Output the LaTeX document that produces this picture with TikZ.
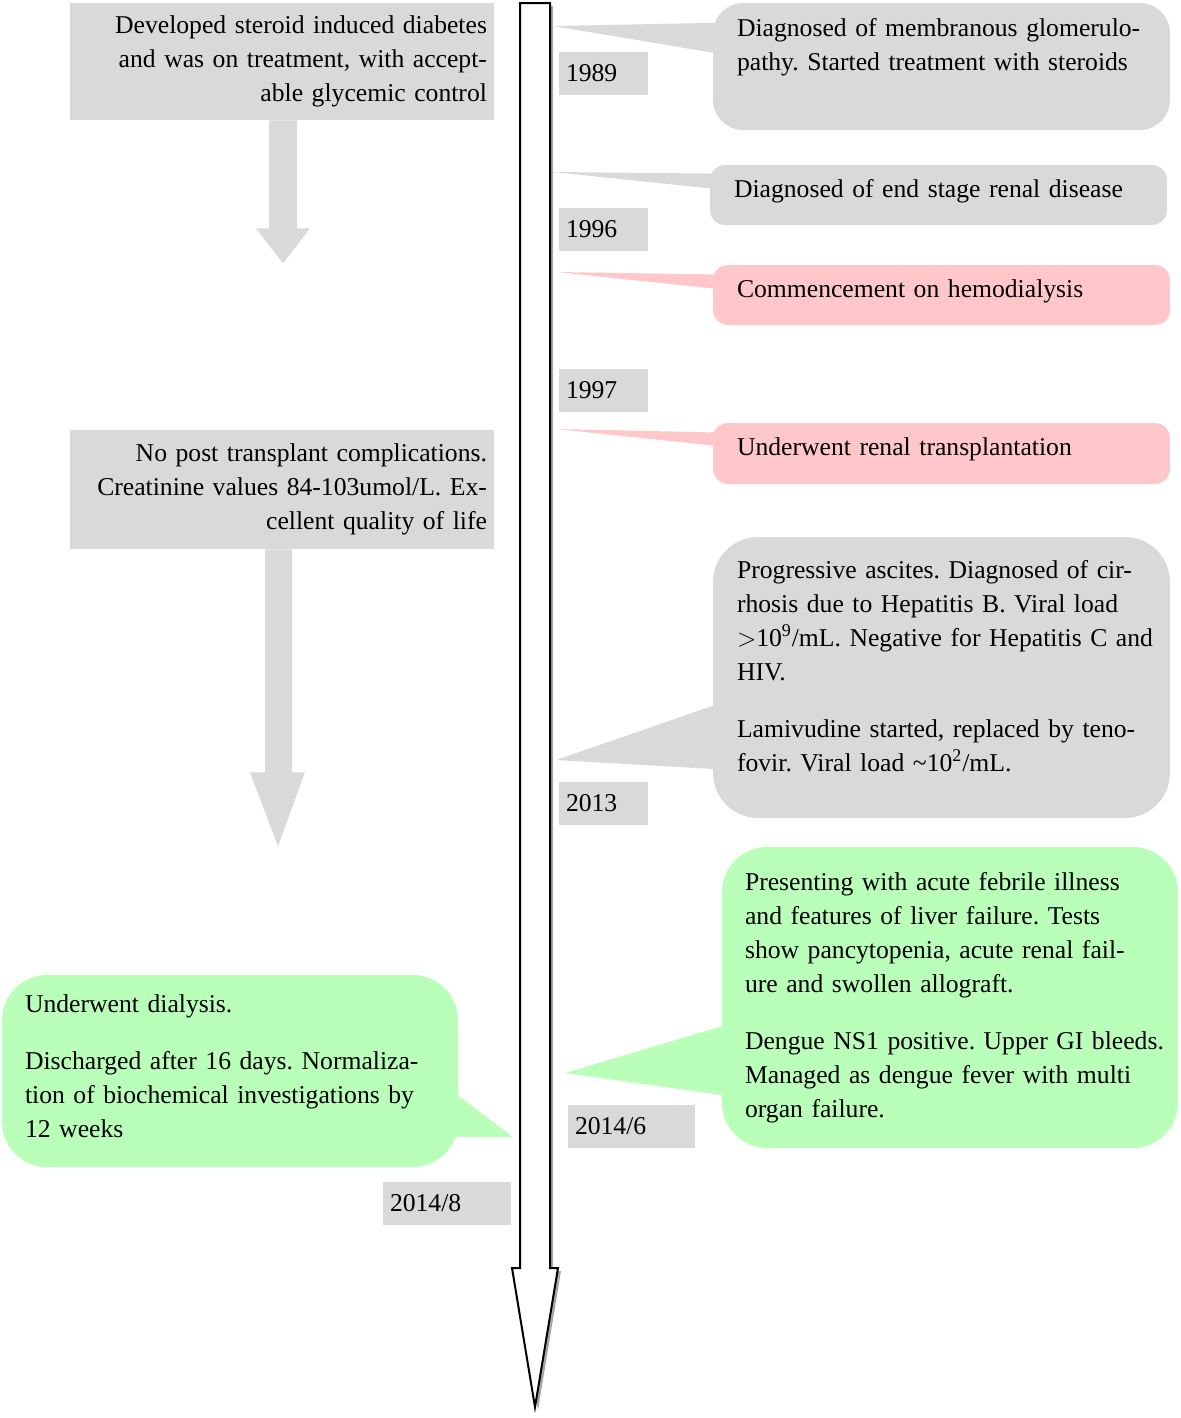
\documentclass[tikz,border=0pt]{standalone}
\usepackage{fontspec}
\setmainfont{Liberation Serif}
\usetikzlibrary{calc}
\definecolor{boxgray}{HTML}{D9D9D9}
\definecolor{boxpink}{HTML}{FFC7C9}
\definecolor{boxgreen}{HTML}{B9FFB9}
\definecolor{shadowgray}{HTML}{A6A6A6}
\tikzset{
  txt/.style={font=\fontsize{14.6}{19.35}\selectfont\frenchspacing, text=black},
  yearbox/.style={txt, fill=boxgray, minimum height=0.86cm, inner xsep=0.14cm, inner ysep=0pt, align=left},
  notebox/.style={txt, fill=boxgray, minimum width=8.48cm, text width=8.2cm, inner xsep=0.14cm, inner ysep=0pt, align=right},
  callout/.style={txt, minimum width=9.14cm, text width=8.18cm, inner xsep=0.48cm, inner ysep=0pt, align=left},
  graycall/.style={callout, fill=boxgray},
  pinkcall/.style={callout, fill=boxpink},
  greencall/.style={callout, fill=boxgreen},
  timeline/.style={draw=black, fill=white, line width=0.04cm, line join=miter}
}

\begin{document}
\begin{tikzpicture}[x=0.02cm, y=-0.02cm]
  \useasboundingbox (0,0) rectangle (1181,1418);

  % timeline
  \fill[shadowgray] (523,6) -- (553,6) -- (553,1271) -- (561,1271) -- (538,1410) -- (515,1271) -- (523,1271) -- cycle;
  \draw[timeline] (520,3) -- (550,3) -- (550,1268) -- (558,1268) -- (535,1407) -- (512,1268) -- (520,1268) -- cycle;
  \coordinate (t1989) at (553,26);
  \coordinate (t1996) at (553,172);
  \coordinate (thd) at (556,272);
  \coordinate (t1997) at (556,429);
  \coordinate (t2013) at (556,760);
  \coordinate (t2014a) at (565,1073);
  \coordinate (t2014b) at (513,1137);

  % years
  \node[yearbox, text width=1.5cm] (y1989) at (603.5,73.5) {1989};
  \node[yearbox, text width=1.5cm] (y1996) at (603.5,229.5) {1996};
  \node[yearbox, text width=1.5cm] (y1997) at (603.5,390.5) {1997};
  \node[yearbox, text width=1.5cm] (y2013) at (603.5,803.5) {2013};
  \node[yearbox, text width=2.26cm] (y2014a) at (631.5,1126.5) {2014/6};
  \node[yearbox, text width=2.28cm] (y2014b) at (447,1203) {2014/8};

  % right callouts
  \node[graycall, rounded corners=0.6cm, minimum height=2.54cm] (c1989) at (941.5,66.5)
    {Diagnosed of membranous glomerulo-\\pathy. Started treatment with steroids\\[0.2cm]~};
  \node[graycall, rounded corners=0.3cm, minimum height=1.2cm, text depth=0.27cm] (cesrd) at (938.5,195)
    {Diagnosed of end stage renal disease};
  \node[pinkcall, rounded corners=0.3cm, minimum height=1.2cm, text depth=0.27cm] (chd) at (941.5,295)
    {Commencement on hemodialysis};
  \node[pinkcall, rounded corners=0.3cm, minimum height=1.22cm, text depth=0.29cm] (ctx) at (941.5,453.5)
    {Underwent renal transplantation};
  \node[graycall, rounded corners=0.9cm, minimum height=5.62cm] (chbv) at (941.5,677.5)
    {Progressive ascites. Diagnosed of cir-\\rhosis due to Hepatitis B. Viral load\\\mbox{$>$10\textsuperscript{9}/mL. Negative for Hepatitis C and}\\HIV.\\[0.46cm]
     Lamivudine started, replaced by teno-\\fovir. Viral load \textasciitilde10\textsuperscript{2}/mL.\\[-0.2cm]~};
  \node[greencall, rounded corners=0.9cm, minimum height=6.02cm, minimum width=9.12cm, text width=8.2cm, inner xsep=0.46cm] (cdengue) at (950,997.5)
    {Presenting with acute febrile illness\\and features of liver failure. Tests\\show pancytopenia, acute renal fail-\\ure and swollen allograft.\\[0.46cm]
     \mbox{Dengue NS1 positive. Upper GI bleeds.}\\Managed as dengue fever with multi\\organ failure.};

  \fill[boxgray] (t1989) -- ($(c1989.north west)+(12,20)$) -- ($(c1989.north west)+(12,52)$) -- cycle;
  \fill[boxgray] (t1996) -- ($(cesrd.north west)+(12,9)$) -- ($(cesrd.north west)+(12,25)$) -- cycle;
  \fill[boxpink] (thd) -- ($(chd.north west)+(12,10)$) -- ($(chd.north west)+(12,25)$) -- cycle;
  \fill[boxpink] (t1997) -- ($(ctx.north west)+(12,10)$) -- ($(ctx.north west)+(12,24)$) -- cycle;
  \fill[boxgray] (t2013) -- ($(chbv.north west)+(12,165)$) -- ($(chbv.north west)+(12,233)$) -- cycle;
  \fill[boxgreen] (t2014a) -- ($(cdengue.north west)+(12,176)$) -- ($(cdengue.north west)+(12,250)$) -- cycle;

  % left side
  \node[notebox, minimum height=2.34cm] (diab) at (282,61.5)
    {Developed steroid induced diabetes\\and was on treatment, with accept-\\able glycemic control};
  \node[notebox, minimum height=2.38cm] (posttx) at (282,489.5)
    {No post transplant complications.\\Creatinine values 84-103umol/L. Ex-\\cellent quality of life};
  \node[greencall, rounded corners=0.9cm, minimum height=3.84cm, minimum width=9.12cm, text width=8.2cm, inner xsep=0.46cm] (cdial) at (230,1071)
    {Underwent dialysis.\\[0.46cm]
     Discharged after 16 days. Normaliza-\\tion of biochemical investigations by\\12 weeks\\[-0.48cm]~};
  \fill[boxgreen] ($(cdial.north east)+(-12,112)$) -- (t2014b) -- ($(cdial.north east)+(-12,162)$) -- cycle;

  \fill[boxgray] ($(diab.south)+(-13,0)$) -- ++(28,0) -- ++(0,108) -- ++(13,0)
    -- ($(diab.south)+(1,143)$) -- ($(diab.south)+(-26,108)$) -- ($(diab.south)+(-13,108)$) -- cycle;
  \fill[boxgray] ($(posttx.south)+(-17,0)$) -- ++(27,0) -- ++(0,223) -- ++(13,0)
    -- ($(posttx.south)+(-4,297)$) -- ($(posttx.south)+(-32,223)$) -- ($(posttx.south)+(-17,223)$) -- cycle;
\end{tikzpicture}
\end{document}
